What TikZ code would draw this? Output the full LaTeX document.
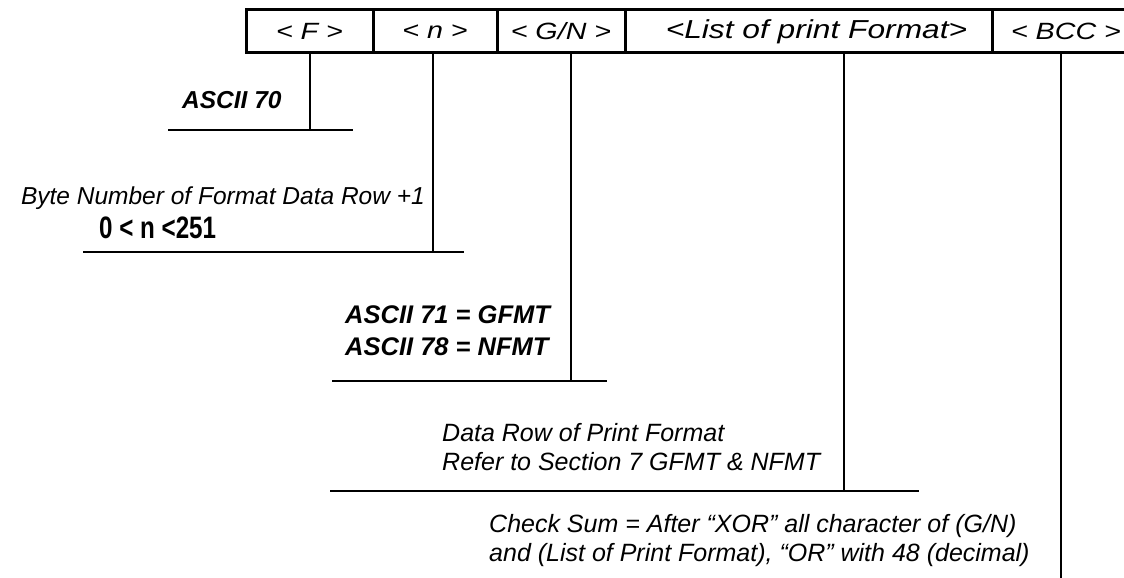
\documentclass[tikz,border=0pt]{standalone}
\usepackage{fontspec}
\setmainfont{Liberation Sans}
\newfontfamily\widefont[FakeStretch=1.22]{Liberation Sans}
\newfontfamily\narrowfont[FakeStretch=0.78]{Liberation Sans}
\usetikzlibrary{calc}

\begin{document}
\begin{tikzpicture}[x=1pt,y=-1pt,
  field/.style={draw,line width=3pt,minimum height=43pt,inner sep=0pt,
    font=\widefont\itshape\fontsize{23.5}{23.5}\selectfont},
  lead/.style={line width=2pt},
  note/.style={inner sep=0pt,align=left,font=\itshape\fontsize{25}{29}\selectfont},
  code/.style={inner sep=0pt,align=left,font=\bfseries\itshape\fontsize{24.5}{32}\selectfont}]
  \clip (0,0) rectangle (1124,578);
  % frame fields
  \node[field,minimum width=127pt] (f) at (309.5,31.5) {< F >};
  \node[field,minimum width=124pt] (n) at (435,31.5) {< n >};
  \node[field,minimum width=128pt] (g) at (561,31.5) {< G/N >};
  \node[field,minimum width=367pt,font=\widefont\itshape\fontsize{26}{26}\selectfont] (list) at (808.5,31.5) {\hspace*{16pt}<List of print Format>};
  \node[field,minimum width=148pt] (bcc) at (1066,31.5) {< BCC >};
  % F
  \coordinate (fa) at (168,130);
  \coordinate (fb) at (353,130);
  \draw[lead] (fa) -- (fb);
  \draw[lead] (f.south) -- (f.south |- fa);
  \node[code,anchor=west] (fnote) at (182,100) {ASCII 70};
  % n
  \coordinate (na) at (83,252);
  \coordinate (nb) at (464,252);
  \draw[lead] (na) -- (nb);
  \draw[lead] ([xshift=-2pt]n.south) -- ([xshift=-2pt]n.south |- na);
  \node[note,anchor=east,font=\itshape\fontsize{24.5}{29}\selectfont] (nnote) at (425,198) {Byte Number of Format Data Row +1};
  \node[inner sep=0pt,anchor=west,font=\narrowfont\bfseries\fontsize{31}{31}\selectfont] (nrange) at (99,228) {0 < n <251};
  % G/N
  \coordinate (ga) at (332,381);
  \coordinate (gb) at (607,381);
  \draw[lead] (ga) -- (gb);
  \draw[lead] ([xshift=10pt]g.south) -- ([xshift=10pt]g.south |- ga);
  \node[code,anchor=west,font=\bfseries\itshape\fontsize{25.5}{32}\selectfont] (gnote) at (345,331) {ASCII 71 = GFMT\\ASCII 78 = NFMT};
  % list of print format
  \coordinate (la) at (330,491);
  \coordinate (lb) at (919,491);
  \draw[lead] (la) -- (lb);
  \draw[lead] ([xshift=35.5pt]list.south) -- ([xshift=35.5pt]list.south |- la);
  \node[note,anchor=west] (lnote) at (442,447.5) {Data Row of Print Format\\Refer to Section 7 GFMT \& NFMT};
  % BCC
  \coordinate (bend) at (1061,582);
  \draw[lead] ([xshift=-5pt]bcc.south) -- ([xshift=-5pt]bcc.south |- bend);
  \node[note,anchor=west] (bnote) at (489,541) {Check Sum = After “XOR” all character of (G/N)\\and (List of Print Format), “OR” with 48 (decimal)};
\end{tikzpicture}
\end{document}
